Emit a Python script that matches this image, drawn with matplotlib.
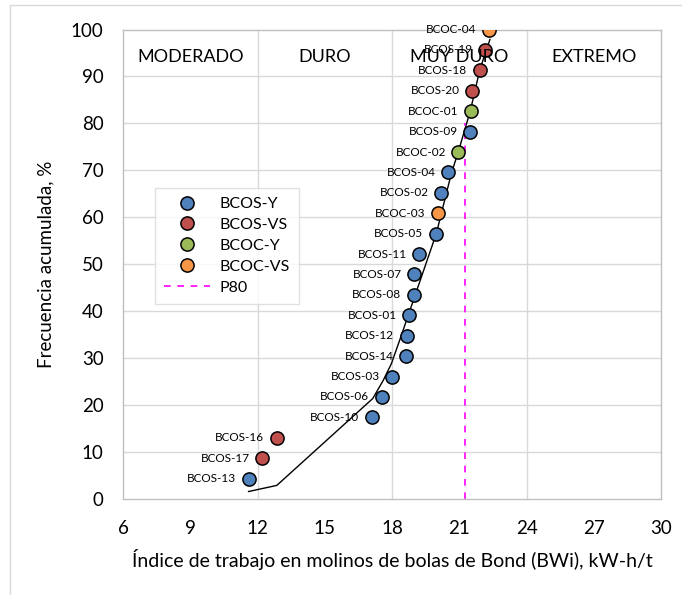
import matplotlib.pyplot as plt
from matplotlib.patches import Rectangle
from matplotlib.lines import Line2D

plt.rcParams['font.family'] = ['Lato', 'DejaVu Sans']

# muestras ordenadas por BWi
muestras = ['BCOS-13', 'BCOS-17', 'BCOS-16', 'BCOS-10', 'BCOS-06', 'BCOS-03',
            'BCOS-14', 'BCOS-12', 'BCOS-01', 'BCOS-08', 'BCOS-07', 'BCOS-11',
            'BCOS-05', 'BCOC-03', 'BCOS-02', 'BCOS-04', 'BCOC-02', 'BCOS-09',
            'BCOC-01', 'BCOS-20', 'BCOS-18', 'BCOS-19', 'BCOC-04']
grupo = ['BCOS-Y', 'BCOS-VS', 'BCOS-VS', 'BCOS-Y', 'BCOS-Y', 'BCOS-Y',
         'BCOS-Y', 'BCOS-Y', 'BCOS-Y', 'BCOS-Y', 'BCOS-Y', 'BCOS-Y',
         'BCOS-Y', 'BCOC-VS', 'BCOS-Y', 'BCOS-Y', 'BCOC-Y', 'BCOS-Y',
         'BCOC-Y', 'BCOS-VS', 'BCOS-VS', 'BCOS-VS', 'BCOC-VS']
bwi = [11.61, 12.2, 12.86, 17.1, 17.55, 18.02, 18.63, 18.66, 18.76, 18.97,
       19.0, 19.22, 19.95, 20.04, 20.19, 20.52, 20.96, 21.5, 21.51, 21.59,
       21.92, 22.16, 22.31]
frec = [4.35, 8.7, 13.04, 17.39, 21.74, 26.09, 30.43, 34.78, 39.13, 43.48,
        47.83, 52.17, 56.52, 60.87, 65.22, 69.57, 73.91, 78.26, 82.61, 86.96,
        91.3, 95.65, 100.0]

# curva de ajuste
curva_x = [11.6, 12.86, 17.14, 17.6, 17.97, 18.34, 19.98, 20.65, 20.96, 21.5, 21.92, 22.37]
curva_y = [1.6, 2.9, 21.4, 25.2, 28.8, 33.8, 56.6, 69.4, 74.0, 82.8, 91.5, 97.9]

p80 = 21.25
zonas = ['MODERADO', 'DURO', 'MUY DURO', 'EXTREMO']
zonas_x = [9, 15, 21, 27]

colores = {'BCOS-Y': '#4F81BD', 'BCOS-VS': '#C0504D',
           'BCOC-Y': '#9BBB59', 'BCOC-VS': '#F79646'}

fig = plt.figure(figsize=(6.82, 5.95), dpi=100)
ax = fig.add_axes([0.1804, 0.1613, 0.7888, 0.7891])
fig.patches.append(Rectangle((10 / 682, -0.1), 1.2, 1.1 - 5 / 595, transform=fig.transFigure,
                             fill=False, edgecolor='#D9D9D9', linewidth=1.0))

ax.set_xlim(6, 30)
ax.set_ylim(0, 100)
ax.set_xticks(range(6, 31, 3))
ax.set_yticks(range(0, 101, 10))
ax.tick_params(length=0, labelsize=13.5, colors='black')
ax.tick_params(axis='x', pad=15)
ax.tick_params(axis='y', pad=14)
for s in ax.spines.values():
    s.set_color('#BFBFBF')
    s.set_linewidth(1.0)

for yv in range(10, 100, 10):
    ax.axhline(yv, color='#D9D9D9', linewidth=1.0, zorder=0)
for xv in [12, 18, 24]:
    ax.axvline(xv, color='#D9D9D9', linewidth=1.0, zorder=0)

ax.plot(curva_x, curva_y, color='black', linewidth=1.0, zorder=2)
ax.plot([p80, p80], [0, 80], color='#FF00FF', linestyle=(0, (4, 4)), linewidth=1.2, zorder=2)

for m, g, x, y in zip(muestras, grupo, bwi, frec):
    ax.plot(x, y, 'o', markersize=9.5, markerfacecolor=colores[g],
            markeredgecolor='black', markeredgewidth=1.1, zorder=3)
    ax.annotate(m, (x, y), xytext=(-9, 0), textcoords='offset points',
                ha='right', va='center', fontsize=8.5, zorder=4)

for z, zx in zip(zonas, zonas_x):
    ax.text(zx, 94.2, z, ha='center', va='center', fontsize=13)

handles = [Line2D([], [], marker='o', linestyle='none', markersize=9.5,
                  markerfacecolor=colores[g], markeredgecolor='black',
                  markeredgewidth=1.1) for g in colores]
handles.append(Line2D([], [], color='#FF00FF', linestyle=(0, (4, 4)), linewidth=1.2))
labels = list(colores) + ['P80']
leg = ax.legend(handles, labels, loc='upper left', bbox_to_anchor=(0.0595, 0.662),
                borderaxespad=0, fontsize=11.5, frameon=True, fancybox=False,
                handlelength=2.9, borderpad=0.55, labelspacing=0.42,
                handletextpad=0.6)
leg.get_frame().set_edgecolor('#D9D9D9')
leg.get_frame().set_linewidth(1.0)

ax.set_xlabel('Índice de trabajo en molinos de bolas de Bond (BWi), kW-h/t', fontsize=14, labelpad=9)
ax.set_ylabel('Frecuencia acumulada, %', fontsize=13.5, labelpad=12)

fig.savefig('out.png', dpi=100)
